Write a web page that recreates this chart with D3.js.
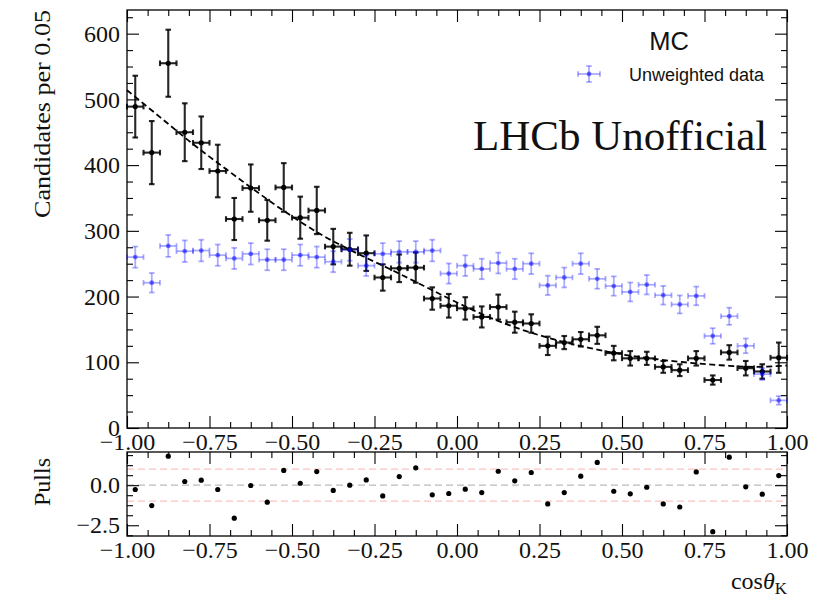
<!DOCTYPE html>
<html>
<head>
<meta charset="utf-8">
<script src="https://cdn.jsdelivr.net/npm/d3@7"></script>
<style>
  body { margin: 0; background: #fff; }
  svg text { fill: #111; }
</style>
</head>
<body>
<svg id="chart" width="840" height="601"></svg>
<script>
// cos(theta_K) histogram: 40 bins of width 0.05
const binCenters = [
  -0.975, -0.925, -0.875, -0.825, -0.775, -0.725, -0.675, -0.625, -0.575, -0.525,
  -0.475, -0.425, -0.375, -0.325, -0.275, -0.225, -0.175, -0.125, -0.075, -0.025,
   0.025,  0.075,  0.125,  0.175,  0.225,  0.275,  0.325,  0.375,  0.425,  0.475,
   0.525,  0.575,  0.625,  0.675,  0.725,  0.775,  0.825,  0.875,  0.925,  0.975
];
const binWidth = 0.05;

// MC candidates (weighted) and their uncertainties
const mcCounts = [
  489, 419, 555, 450, 434, 391, 318, 365, 316, 366,
  320, 331, 276, 272, 266, 229, 243, 244, 197, 186,
  182, 169, 184, 161, 159, 125, 130, 135, 141, 114,
  106, 106,  93,  88, 106,  73, 115,  91,  86, 107
];
const mcErrors = [
  47, 48, 51, 44, 40, 40, 32, 36, 31, 37,
  32, 36, 27, 25, 27, 20, 21, 23, 17, 18,
  17, 16, 19, 16, 14, 14, 10, 11, 13, 11,
  11, 10,  9,  9, 11,  7, 11, 11, 11, 23
];

// Unweighted data counts (Poisson errors)
const unweightedCounts = [
  260, 221, 277, 269, 270, 263, 258, 265, 256, 256,
  263, 260, 253, 271, 247, 265, 268, 268, 270, 235,
  247, 242, 251, 242, 250, 217, 229, 250, 227, 216,
  207, 218, 202, 188, 201, 140, 170, 125,  82,  42
];

// Fitted shape (dashed curve)
const fitX = [-1.0, -0.9, -0.8, -0.7, -0.6, -0.5, -0.4, -0.3, -0.2, -0.1,
               0.0,  0.1,  0.2,  0.3,  0.4,  0.5,  0.6,  0.7,  0.8,  0.9, 1.0];
const fitY = [514, 473, 432, 394, 357, 322, 291, 265, 241, 216,
              191, 168, 149, 134, 122, 112, 105, 99.5, 95.5, 93, 95];

// Pulls per bin
const pulls = [
  -0.27, -1.27,  1.81,  0.23,  0.31, -0.27, -2.06, -0.02, -1.06,  0.92,
   0.12,  0.85, -0.33,  0.00,  0.33, -0.67,  0.54,  1.08, -0.60, -0.52,
  -0.25, -0.46,  0.87,  0.27,  0.79, -1.17, -0.46,  0.56,  1.42, -0.38,
  -0.54, -0.13, -1.17, -1.36,  0.83, -2.90,  1.75, -0.10, -0.56,  0.60
];

const xTicks = [-1.0, -0.75, -0.5, -0.25, 0.0, 0.25, 0.5, 0.75, 1.0];
const yTicks = [0, 100, 200, 300, 400, 500, 600];
const pullTicks = [-2.5, 0.0];
const pullBands = [-1, 1];

// ---- layout ----
const left = 127, right = 787;
const mainTop = 10, mainBottom = 428;
const pullTop = 452, pullBottom = 536;
const majorLen = 12, minorLen = 6;
const serif = "'Liberation Serif', 'Times New Roman', serif";
const sans = "'Liberation Sans', Arial, sans-serif";

const svg = d3.select("#chart");

const x = d3.scaleLinear().domain([-1, 1]).range([left, right]);
const y = d3.scaleLinear().domain([0, 636]).range([mainBottom, mainTop]);
const yp = d3.scaleLinear().domain([-3.17, 2.07]).range([pullBottom, pullTop]);

const xMinor = d3.range(-1, 1.0001, 0.0625).filter(v => Math.abs(v / 0.25 - Math.round(v / 0.25)) > 1e-6);
const yMinor = d3.range(0, 636, 25).filter(v => v % 100 !== 0);
const pMinor = d3.range(-3.125, 2.07, 0.625).filter(v => Math.abs(v / 2.5 - Math.round(v / 2.5)) > 1e-6);

function styleAxis(g, labelled) {
  g.select(".domain").remove();
  g.selectAll(".tick line").attr("stroke", "#000").attr("stroke-width", 1.1);
  g.selectAll(".tick text")
    .style("font-family", serif)
    .style("font-size", "24px");
  if (!labelled) g.selectAll(".tick text").remove();
}

function drawFrame(yScale, top, bottom, yMaj, yMin, yFmt) {
  const g = svg.append("g");
  // x axes, ticks pointing in
  g.append("g").attr("transform", `translate(0,${bottom})`)
    .call(d3.axisBottom(x).tickValues(xTicks).tickSize(-majorLen).tickPadding(5).tickFormat(d3.format(".2f")))
    .call(a => styleAxis(a, true));
  g.append("g").attr("transform", `translate(0,${bottom})`)
    .call(d3.axisBottom(x).tickValues(xMinor).tickSize(-minorLen).tickFormat(""))
    .call(a => styleAxis(a, false));
  g.append("g").attr("transform", `translate(0,${top})`)
    .call(d3.axisTop(x).tickValues(xTicks).tickSize(-majorLen).tickFormat(""))
    .call(a => styleAxis(a, false));
  g.append("g").attr("transform", `translate(0,${top})`)
    .call(d3.axisTop(x).tickValues(xMinor).tickSize(-minorLen).tickFormat(""))
    .call(a => styleAxis(a, false));
  // y axes
  g.append("g").attr("transform", `translate(${left},0)`)
    .call(d3.axisLeft(yScale).tickValues(yMaj).tickSize(-majorLen).tickPadding(7).tickFormat(yFmt))
    .call(a => styleAxis(a, true));
  g.append("g").attr("transform", `translate(${left},0)`)
    .call(d3.axisLeft(yScale).tickValues(yMin).tickSize(-minorLen).tickFormat(""))
    .call(a => styleAxis(a, false));
  g.append("g").attr("transform", `translate(${right},0)`)
    .call(d3.axisRight(yScale).tickValues(yMaj).tickSize(-majorLen).tickFormat(""))
    .call(a => styleAxis(a, false));
  g.append("g").attr("transform", `translate(${right},0)`)
    .call(d3.axisRight(yScale).tickValues(yMin).tickSize(-minorLen).tickFormat(""))
    .call(a => styleAxis(a, false));
  g.append("rect")
    .attr("x", left).attr("y", top)
    .attr("width", right - left).attr("height", bottom - top)
    .attr("fill", "none").attr("stroke", "#000").attr("stroke-width", 1.3);
}

// ---- error-bar helper ----
function errorBars(g, centers, values, errs, opts) {
  const hw = binWidth / 2;
  const cap = opts.cap;
  const pts = centers.map((c, i) => ({ c, v: values[i], e: errs[i] }));
  const item = g.selectAll("g").data(pts).join("g");
  const line = (sel, x1, y1, x2, y2) => sel.append("line")
    .attr("x1", x1).attr("y1", y1).attr("x2", x2).attr("y2", y2)
    .attr("stroke", opts.color).attr("stroke-opacity", opts.lineOpacity)
    .attr("stroke-width", opts.width);
  item.each(function (d) {
    const s = d3.select(this);
    const cx = x(d.c), cy = y(d.v);
    const xl = x(d.c - hw), xr = x(d.c + hw);
    const yt = y(d.v + d.e), yb = y(d.v - d.e);
    line(s, xl, cy, xr, cy);
    line(s, cx, yt, cx, yb);
    line(s, xl, cy - cap, xl, cy + cap);
    line(s, xr, cy - cap, xr, cy + cap);
    line(s, cx - cap, yt, cx + cap, yt);
    line(s, cx - cap, yb, cx + cap, yb);
    s.append("circle").attr("cx", cx).attr("cy", cy).attr("r", opts.r)
      .attr("fill", opts.color).attr("fill-opacity", opts.dotOpacity);
  });
}

// ---- main panel ----
drawFrame(y, mainTop, mainBottom, yTicks, yMinor, d3.format("d"));

errorBars(svg.append("g"), binCenters, mcCounts, mcErrors,
  { color: "#000", width: 2.1, cap: 2.8, r: 2.6, lineOpacity: 0.85, dotOpacity: 1 });

svg.append("path")
  .datum(fitX.map((v, i) => [v, fitY[i]]))
  .attr("d", d3.line().x(d => x(d[0])).y(d => y(d[1])).curve(d3.curveCatmullRom))
  .attr("fill", "none").attr("stroke", "#000").attr("stroke-width", 1.8)
  .attr("stroke-dasharray", "6,3.5");

errorBars(svg.append("g"), binCenters, unweightedCounts, unweightedCounts.map(Math.sqrt),
  { color: "#0000ff", width: 1.8, cap: 2.8, r: 2.4, lineOpacity: 0.33, dotOpacity: 0.5 });

// y label
svg.append("text")
  .attr("transform", `translate(50,${mainTop}) rotate(-90)`)
  .attr("text-anchor", "end")
  .attr("textLength", 208).attr("lengthAdjust", "spacingAndGlyphs")
  .style("font-family", serif).style("font-size", "24px")
  .text("Candidates per 0.05");

// annotations
svg.append("text")
  .attr("x", 669).attr("y", 50).attr("text-anchor", "middle")
  .style("font-family", sans).style("font-size", "25.5px")
  .text("MC");

const leg = svg.append("g");
const lx = 589, ly = 74;
[[lx - 11, ly, lx + 11, ly], [lx, ly - 8, lx, ly + 8],
 [lx - 11, ly - 2.8, lx - 11, ly + 2.8], [lx + 11, ly - 2.8, lx + 11, ly + 2.8],
 [lx - 2.8, ly - 8, lx + 2.8, ly - 8], [lx - 2.8, ly + 8, lx + 2.8, ly + 8]]
  .forEach(s => leg.append("line")
    .attr("x1", s[0]).attr("y1", s[1]).attr("x2", s[2]).attr("y2", s[3])
    .attr("stroke", "#0000ff").attr("stroke-opacity", 0.33).attr("stroke-width", 1.8));
leg.append("circle").attr("cx", lx).attr("cy", ly).attr("r", 2.4)
  .attr("fill", "#0000ff").attr("fill-opacity", 0.5);
leg.append("text")
  .attr("x", 629).attr("y", 81)
  .style("font-family", sans).style("font-size", "18px")
  .text("Unweighted data");

svg.append("text")
  .attr("x", 473).attr("y", 150)
  .style("font-family", serif).style("font-size", "43px")
  .text("LHCb Unofficial");

// ---- pull panel ----
const pg = svg.append("g");
pg.append("line")
  .attr("x1", left).attr("x2", right).attr("y1", yp(0)).attr("y2", yp(0))
  .attr("stroke", "#bbbbbb").attr("stroke-width", 1.3).attr("stroke-dasharray", "7,4");
pullBands.forEach(b => pg.append("line")
  .attr("x1", left).attr("x2", right).attr("y1", yp(b)).attr("y2", yp(b))
  .attr("stroke", "#ff9a9a").attr("stroke-opacity", 0.6).attr("stroke-width", 1.3)
  .attr("stroke-dasharray", "7,4"));

drawFrame(yp, pullTop, pullBottom, pullTicks, pMinor, d3.format(".1f"));

pg.selectAll("circle.pull").data(pulls).join("circle")
  .attr("class", "pull")
  .attr("cx", (d, i) => x(binCenters[i])).attr("cy", d => yp(d))
  .attr("r", 2.6).attr("fill", "#000");

svg.append("text")
  .attr("transform", `translate(50,482) rotate(-90)`)
  .attr("text-anchor", "middle")
  .style("font-family", serif).style("font-size", "24px")
  .text("Pulls");

// x label
const xl = svg.append("text")
  .attr("x", right).attr("y", 589).attr("text-anchor", "end")
  .style("font-family", serif).style("font-size", "24px");
xl.append("tspan").text("cos");
xl.append("tspan").style("font-style", "italic").text("θ");
xl.append("tspan").attr("dy", 5).style("font-size", "17px").text("K");
</script>
</body>
</html>
